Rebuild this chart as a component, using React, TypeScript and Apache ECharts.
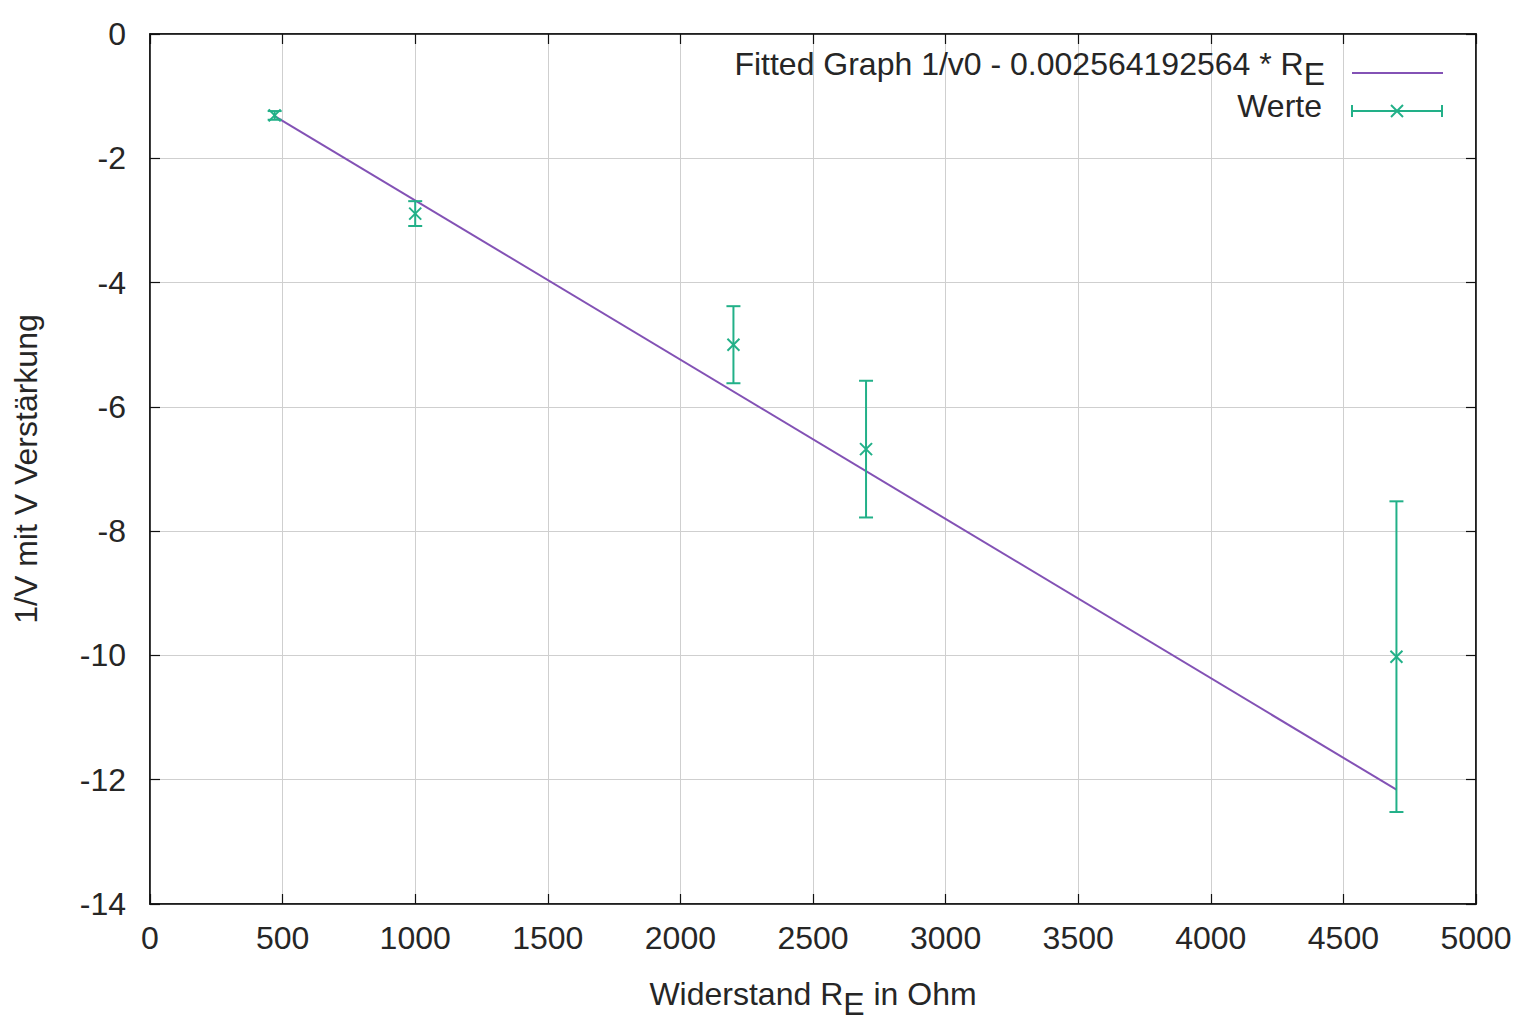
import React, { useEffect, useRef } from 'react';
import * as echarts from 'echarts';

// Measured resistor values (Ohm) and 1/V values with their uncertainties
const resistances = [470, 1000, 2200, 2700, 4700];
const inverseGain = [-1.31, -2.89, -5.0, -6.68, -10.02];
const gainErrors = [0.07, 0.2, 0.62, 1.1, 2.5];

// Fitted line end points (1/v0 - 0.002564192564 * R_E)
const fitX = [470, 4700];
const fitY = [-1.32, -12.16];

const xTickValues = [0, 500, 1000, 1500, 2000, 2500, 3000, 3500, 4000, 4500, 5000];
const yTickValues = [0, -2, -4, -6, -8, -10, -12, -14];

const FONT = '"Liberation Sans", Arial, Helvetica, sans-serif';
const FS = 32;
const PURPLE = '#8352b5';
const GREEN = '#22b088';
const TEXT = '#262626';

export default function App() {
  const ref = useRef<HTMLDivElement>(null);

  useEffect(() => {
    if (!ref.current) return;
    const chart = echarts.init(ref.current, null, { renderer: 'svg' });

    const errData = resistances.map((r, i) => [r, inverseGain[i], gainErrors[i]]);
    const fitData = fitX.map((x, i) => [x, fitY[i]]);

    const xMin = xTickValues[0];
    const xMax = xTickValues[xTickValues.length - 1];
    const yMin = yTickValues[yTickValues.length - 1];
    const yMax = yTickValues[0];

    const subRich = {
      sub: { fontSize: FS, fontFamily: FONT, color: TEXT, padding: [20, 0, 0, 0] },
      n: { fontSize: FS, fontFamily: FONT, color: TEXT },
    };

    const gstyle = { stroke: GREEN, lineWidth: 2 };

    chart.setOption({
      animation: false,
      backgroundColor: '#ffffff',
      grid: {
        left: 150,
        right: 42,
        top: 34,
        bottom: 116,
        show: true,
        borderColor: '#111',
        borderWidth: 1.5,
      },
      xAxis: [
        {
          type: 'value',
          min: xMin,
          max: xMax,
          interval: 500,
          position: 'bottom',
          name: '{n|Widerstand R}{sub|E}{n| in Ohm}',
          nameLocation: 'middle',
          nameGap: 64,
          nameTextStyle: { rich: subRich, fontSize: FS, fontFamily: FONT, color: TEXT },
          axisLine: { show: true, onZero: false, lineStyle: { color: '#111', width: 1.5 } },
          axisTick: { show: true, inside: true, length: 10, lineStyle: { color: '#111', width: 1.2 } },
          axisLabel: {
            fontSize: FS,
            fontFamily: FONT,
            color: TEXT,
            margin: 18,
            formatter: (v: number) => String(v),
          },
          splitLine: { show: true, lineStyle: { color: '#cfcfcf', width: 1 } },
        },
        {
          type: 'value',
          min: xMin,
          max: xMax,
          interval: 500,
          position: 'top',
          axisLine: { show: true, onZero: false, lineStyle: { color: '#111', width: 1.5 } },
          axisTick: { show: true, inside: true, length: 10, lineStyle: { color: '#111', width: 1.2 } },
          axisLabel: { show: false },
          splitLine: { show: false },
        },
      ],
      yAxis: [
        {
          type: 'value',
          min: yMin,
          max: yMax,
          interval: 2,
          position: 'left',
          name: '1/V mit V Verstärkung',
          nameLocation: 'middle',
          nameGap: 108,
          nameRotate: 90,
          nameTextStyle: { fontSize: FS, fontFamily: FONT, color: TEXT },
          axisLine: { show: true, onZero: false, lineStyle: { color: '#111', width: 1.5 } },
          axisTick: { show: true, inside: true, length: 10, lineStyle: { color: '#111', width: 1.2 } },
          axisLabel: {
            fontSize: FS,
            fontFamily: FONT,
            color: TEXT,
            margin: 24,
            formatter: (v: number) => String(v),
          },
          splitLine: { show: true, lineStyle: { color: '#cfcfcf', width: 1 } },
        },
        {
          type: 'value',
          min: yMin,
          max: yMax,
          interval: 2,
          position: 'right',
          axisLine: { show: true, onZero: false, lineStyle: { color: '#111', width: 1.5 } },
          axisTick: { show: true, inside: true, length: 10, lineStyle: { color: '#111', width: 1.2 } },
          axisLabel: { show: false },
          splitLine: { show: false },
        },
      ],
      series: [
        {
          name: 'Fitted Graph',
          type: 'line',
          xAxisIndex: 0,
          yAxisIndex: 0,
          data: fitData,
          showSymbol: false,
          lineStyle: { color: PURPLE, width: 2 },
          z: 3,
        },
        {
          name: 'Werte',
          type: 'custom',
          xAxisIndex: 0,
          yAxisIndex: 0,
          data: errData,
          encode: { x: 0, y: [1] },
          z: 4,
          renderItem: (params: any, api: any) => {
            const x = api.value(0);
            const y = api.value(1);
            const e = api.value(2);
            const c = api.coord([x, y]);
            const t = api.coord([x, y + e]);
            const b = api.coord([x, y - e]);
            const cap = 7;
            const m = 6;
            return {
              type: 'group',
              children: [
                { type: 'line', shape: { x1: t[0], y1: t[1], x2: b[0], y2: b[1] }, style: gstyle },
                { type: 'line', shape: { x1: t[0] - cap, y1: t[1], x2: t[0] + cap, y2: t[1] }, style: gstyle },
                { type: 'line', shape: { x1: b[0] - cap, y1: b[1], x2: b[0] + cap, y2: b[1] }, style: gstyle },
                { type: 'line', shape: { x1: c[0] - m, y1: c[1] - m, x2: c[0] + m, y2: c[1] + m }, style: gstyle },
                { type: 'line', shape: { x1: c[0] - m, y1: c[1] + m, x2: c[0] + m, y2: c[1] - m }, style: gstyle },
              ],
            };
          },
        },
      ],
      graphic: [
        {
          type: 'text',
          x: 1325,
          y: 64,
          z: 10,
          style: {
            text: '{n|Fitted Graph 1/v0 - 0.002564192564 * R}{sub|E}',
            rich: subRich,
            align: 'right',
            verticalAlign: 'middle',
            fontSize: FS,
            fontFamily: FONT,
            fill: TEXT,
          },
        },
        {
          type: 'line',
          z: 10,
          shape: { x1: 1352, y1: 73, x2: 1443, y2: 73 },
          style: { stroke: PURPLE, lineWidth: 2 },
        },
        {
          type: 'text',
          x: 1322,
          y: 106,
          z: 10,
          style: {
            text: 'Werte',
            align: 'right',
            verticalAlign: 'middle',
            fontSize: FS,
            fontFamily: FONT,
            fill: TEXT,
          },
        },
        {
          type: 'group',
          z: 10,
          children: [
            { type: 'line', shape: { x1: 1352, y1: 111, x2: 1442, y2: 111 }, style: gstyle },
            { type: 'line', shape: { x1: 1352, y1: 105, x2: 1352, y2: 117 }, style: gstyle },
            { type: 'line', shape: { x1: 1442, y1: 105, x2: 1442, y2: 117 }, style: gstyle },
            { type: 'line', shape: { x1: 1391, y1: 105, x2: 1403, y2: 117 }, style: gstyle },
            { type: 'line', shape: { x1: 1391, y1: 117, x2: 1403, y2: 105 }, style: gstyle },
          ],
        },
      ],
    });

    return () => chart.dispose();
  }, []);

  return (
    <div
      ref={ref}
      style={{ position: 'fixed', left: 0, top: 0, width: 1518, height: 1025, background: '#fff' }}
    />
  );
}
